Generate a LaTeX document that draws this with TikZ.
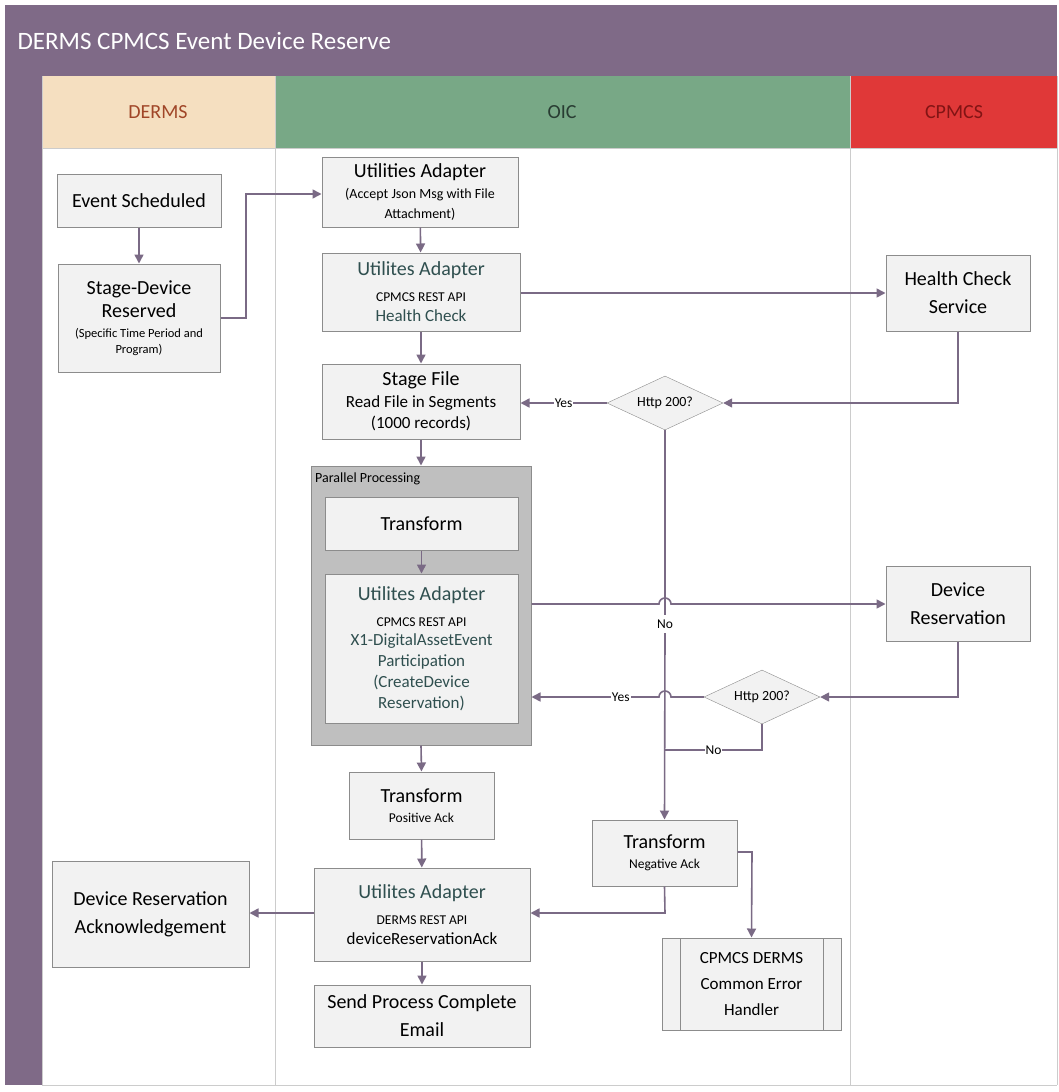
\documentclass[tikz,border=0pt]{standalone}
\usepackage{fontspec}
\setmainfont{Carlito}
\usetikzlibrary{shapes.geometric,arrows.meta}
\definecolor{pur}{HTML}{7F6A87}
\definecolor{conn}{HTML}{7A6A85}
\definecolor{nfill}{HTML}{F2F2F2}
\definecolor{nbord}{HTML}{8C8C8C}
\definecolor{tealx}{HTML}{2F4F4F}
\newcommand{\bigf}{\fontsize{20}{24}\selectfont}
\newcommand{\midf}{\fontsize{17}{21}\selectfont}
\newcommand{\sml}{\fontsize{13.5}{16}\selectfont}
\begin{document}
\begin{tikzpicture}[x=1pt,y=-1pt,
 box/.style={draw=nbord,fill=nfill,line width=1pt,align=center,inner sep=0pt},
 c/.style={draw=conn,line width=1.6pt},
 a/.style={c,-{Triangle[length=9pt,width=9pt]}},
 lbl/.style={fill=white,inner sep=1pt,font=\sml}]
\useasboundingbox (0,0) rectangle (1059,1092);
\fill[white] (0,0) rectangle (1059,1092);
% title & lanes
\fill[pur] (5,5) rectangle (1057,76);
\node[anchor=west,text=white,font=\fontsize{25}{30}\selectfont] (title) at (14,41) {DERMS CPMCS Event Device Reserve};
\fill[pur] (5,76) rectangle (42,1085);
\fill[fill={rgb,255:red,245;green,223;blue,192}] (42,76) rectangle (275,148);
\fill[fill={rgb,255:red,120;green,168;blue,134}] (275,76) rectangle (850,148);
\fill[fill={rgb,255:red,224;green,56;blue,56}] (850,76) rectangle (1057,148);
\node[text={rgb,255:red,160;green,70;blue,40},font=\bigf] (l1) at (158,112) {DERMS};
\node[text={rgb,255:red,40;green,60;blue,50},font=\bigf] (l2) at (562,112) {OIC};
\node[text={rgb,255:red,130;green,20;blue,20},font=\bigf] (l3) at (954,112) {CPMCS};
\draw[gray!40,line width=1pt] (42,76) -- (42,1085) (275,76) -- (275,1085) (850,76) -- (850,1085) (1057,76) -- (1057,1085) (42,1085) -- (1057,1085) (42,148) -- (1057,148);
% nodes
\node[box,minimum width=164pt,minimum height=53pt,font=\bigf] (es) at (139,200.5) {Event Scheduled};
\node[box,minimum width=162pt,minimum height=108pt] (sd) at (139,318) {{\bigf Stage-Device}\\[5pt]{\bigf Reserved}\\[8pt]{\fontsize{12.5}{15}\selectfont (Specific Time Period and}\\[4pt]{\fontsize{12.5}{15}\selectfont Program)}};
\node[box,minimum width=196pt,minimum height=70pt] (ua1) at (420,192) {{\bigf Utilities Adapter}\\[7pt]{\fontsize{14}{16}\selectfont(Accept Json Msg with File}\\[6pt]{\fontsize{14}{16}\selectfont Attachment)}};
\node[box,minimum width=198pt,minimum height=78pt] (ua2) at (421,292) {{\bigf\color{tealx}Utilites Adapter}\\[14pt]{\sml CPMCS REST API}\\[8pt]{\midf\color{tealx}Health Check}};
\node[box,minimum width=144pt,minimum height=76pt,font=\bigf] (hcs) at (958,293) {Health Check\\[4pt]Service};
\node[box,minimum width=198pt,minimum height=75pt] (sf) at (421,401.5) {{\bigf Stage File}\\[5pt]{\midf Read File in Segments}\\[5pt]{\midf (1000 records)}};
\node[diamond,aspect=2.15,draw=nbord,fill=nfill,inner sep=0pt,minimum width=116pt,minimum height=54pt,font=\fontsize{14}{16}\selectfont] (d1) at (665,403) {Http 200?};
\node[draw=nbord,fill=black!25,line width=1pt,minimum width=220pt,minimum height=279pt,inner sep=0pt] (pp) at (421,605.5) {};
\node[anchor=north west,font=\fontsize{14}{16}\selectfont,inner sep=0pt] (ppl) at (315,473) {Parallel Processing};
\node[box,minimum width=193pt,minimum height=53pt,font=\bigf] (tr) at (421.5,523.5) {Transform};
\node[box,minimum width=193pt,minimum height=149pt] (ux) at (421.5,648.5) {{\bigf\color{tealx}Utilites Adapter}\\[14pt]{\sml CPMCS REST API}\\[7pt]{\midf\color{tealx}X1-DigitalAssetEvent}\\[5pt]{\midf\color{tealx}Participation}\\[5pt]{\midf\color{tealx}(CreateDevice}\\[5pt]{\midf\color{tealx}Reservation)}};
\node[box,minimum width=144pt,minimum height=75pt,font=\bigf] (dr) at (958,603.5) {Device\\[4pt]Reservation};
\node[diamond,aspect=2.15,draw=nbord,fill=nfill,inner sep=0pt,minimum width=116pt,minimum height=54pt,font=\fontsize{14}{16}\selectfont] (d2) at (762,697) {Http 200?};
\node[box,minimum width=145pt,minimum height=67pt] (tp) at (421.5,805.5) {{\bigf Transform}\\[8pt]{\sml Positive Ack}};
\node[box,minimum width=145pt,minimum height=66pt] (tn) at (664.5,853) {{\bigf Transform}\\[8pt]{\sml Negative Ack}};
\node[box,minimum width=216pt,minimum height=93pt] (ud) at (422,914.5) {{\bigf\color{tealx}Utilites Adapter}\\[14pt]{\sml DERMS REST API}\\[8pt]{\midf deviceReservationAck}};
\node[box,minimum width=197pt,minimum height=106pt,font=\bigf] (dra) at (150.5,914) {Device Reservation\\[4pt]Acknowledgement};
\node[box,minimum width=216pt,minimum height=62pt,font=\bigf] (se) at (422,1016) {Send Process Complete\\[4pt]Email};
\node[box,minimum width=179pt,minimum height=92pt,font=\midf] (eh) at (751.5,984) {CPMCS DERMS\\[5pt]Common Error\\[5pt]Handler};
\draw[nbord,line width=1pt] (680,938) -- (680,1030) (823,938) -- (823,1030);
% connectors
\draw[a] (es) -- (sd);
\draw[a] (sd.east |- 0,318) -- (246,318) -- (246,194) -- (ua1.west |- 0,194);
\draw[a] (ua1) -- (ua2);
\draw[a] (ua2.east |- 0,293) -- (hcs.west |- 0,293);
\draw[a] (ua2) -- (sf);
\draw[a] (hcs.south) -- (958,403) -- (d1.east);
\draw[a] (d1.west) -- node[lbl,pos=0.5]{Yes} (sf.east |- 0,403);
\draw[a] (sf) -- (pp.north);
\draw[a] (tr) -- (ux);
\draw[a] (pp.east |- 0,604) -- (659,604) arc[start angle=180,end angle=360,radius=6] -- (dr.west |- 0,604);
\draw[c] (d1.south) -- (665,615);
\draw[a] (665,633) -- (tn.north);
\node[font=\sml,inner sep=0pt] (no1) at (665,624) {No};
\draw[a] (dr.south) -- (958,697) -- (d2.east);
\draw[a] (d2.west) -- (671,697) arc[start angle=0,end angle=-180,radius=6] -- node[lbl,pos=0.3]{Yes} (pp.east |- 0,697);
\draw[c] (d2.south) -- (762,750) -- node[lbl]{No} (665,750);
\draw[a] (pp.south) -- (tp.north);
\draw[a] (tp) -- (ud);
\draw[a] (tn.south) -- (665,913) -- (ud.east |- 0,913);
\draw[a] (tn.east |- 0,852) -- (752,852) -- (eh.north);
\draw[a] (ud.west |- 0,913) -- (dra.east |- 0,913);
\draw[a] (ud) -- (se);
\end{tikzpicture}
\end{document}
